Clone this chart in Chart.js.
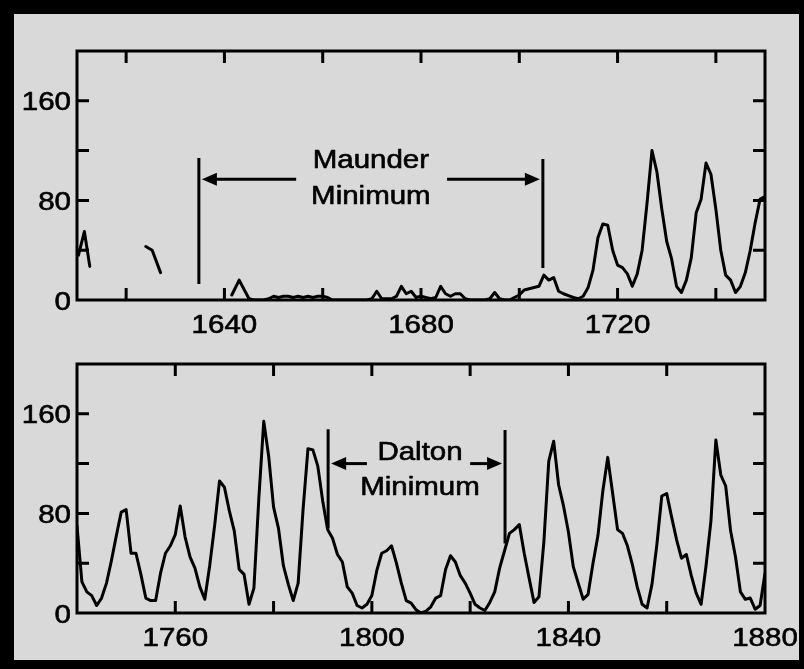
<!DOCTYPE html>
<html>
<head>
<meta charset="utf-8">
<script src="https://cdn.jsdelivr.net/npm/chart.js@4/dist/chart.umd.min.js"></script>
<style>
  html, body { margin: 0; padding: 0; background: #000; width: 804px; height: 669px; overflow: hidden; }
  #panel { position: absolute; left: 14px; top: 14px; width: 785px; height: 646px; background: #d9d9d9; }
  canvas { position: absolute; left: 0; top: 0; }
</style>
</head>
<body>
<div id="panel"></div>
<canvas id="early" width="804" height="669"></canvas>
<canvas id="late" width="804" height="669"></canvas>
<script>
// Yearly sunspot numbers, 1610-1750 (null = no observations)
const earlyYears = [
  1610.3, 1611.5, 1612.6, 1618,
  1624, 1625.3, 1627, 1634,
  1641.5, 1643, 1645, 1646, 1647, 1648, 1649,
  1650, 1651, 1652, 1653, 1654, 1655, 1656, 1657, 1658, 1659,
  1660, 1661, 1662, 1663, 1664, 1665, 1666, 1667, 1668, 1669,
  1670, 1671, 1672, 1673, 1674, 1675, 1676, 1677, 1678, 1679,
  1680, 1681, 1682, 1683, 1684, 1685, 1686, 1687, 1688, 1689,
  1690, 1691, 1692, 1693, 1694, 1695, 1696, 1697, 1698, 1699,
  1700, 1701, 1702, 1703, 1704, 1705, 1706, 1707, 1708, 1709,
  1710, 1711, 1712, 1713, 1714, 1715, 1716, 1717, 1718, 1719,
  1720, 1721, 1722, 1723, 1724, 1725, 1726, 1727, 1728, 1729,
  1730, 1731, 1732, 1733, 1734, 1735, 1736, 1737, 1738, 1739,
  1740, 1741, 1742, 1743, 1744, 1745, 1746, 1747, 1748, 1749, 1750
];
const earlyValues = [
  36, 55, 27, null,
  43, 40, 22, null,
  4, 16, 1, 0, 0, 0, 1,
  3, 2, 3, 3, 2, 3, 2, 3, 2, 3,
  3, 2, 0, 0, 0, 0, 0, 0, 0, 0,
  1, 7, 1, 1, 1, 3, 11, 5, 7, 2,
  3, 2, 1, 2, 11, 5, 3, 5, 5, 1,
  0, 0, 0, 0, 1, 6, 1, 0, 0, 2,
  4, 8, 9, 10, 11, 20, 16, 18, 7, 5,
  3.5, 2, 1, 3, 10, 24, 50, 61, 60, 40,
  28, 26, 21, 11, 21, 40, 78, 120, 103, 73,
  47, 33, 11, 6, 16, 34, 70, 81, 110, 101,
  73, 40, 20, 16, 6, 11, 22, 40, 62, 81, 83
];

// Yearly sunspot numbers, 1740-1880
const lateStartYear = 1740;
const lateValues = [
  70, 25, 17, 14, 6, 12, 24, 42, 62, 81,
  83, 48, 48, 31, 12, 10, 10, 32, 48, 54,
  63, 86, 61, 45, 36, 21, 11, 38, 70, 106,
  101, 82, 66, 35, 31, 7, 20, 92, 154, 126,
  85, 68, 38, 23, 10, 24, 83, 132, 131, 118,
  90, 67, 60, 47, 41, 21, 16, 6, 4, 7,
  14, 34, 48, 50, 54, 40, 24, 10, 8, 2.5,
  0, 1.4, 5, 12, 14, 35, 46, 41, 30, 24,
  16, 7, 4, 2, 8.5, 17, 36, 50, 64, 67,
  71, 48, 28, 8.5, 13, 57, 122, 138, 103, 86,
  65, 37, 24, 11, 15, 40, 62, 98, 125, 96,
  67, 64, 54, 39, 21, 7, 4, 23, 55, 94,
  96, 77, 59, 44, 47, 30, 16, 7, 38, 74,
  139, 111, 102, 66, 45, 17, 11, 12, 3, 6,
  32
];
const lateYears = lateValues.map((_, i) => lateStartYear + i);

// Axis ticks
const valueTickMarks = [40, 80, 120, 160];
const valueTickLabels = [0, 80, 160];
const earlyYearMarks = [1620, 1640, 1660, 1680, 1700, 1720, 1740];
const earlyYearLabels = [1640, 1680, 1720];
const lateYearMarks = [1760, 1780, 1800, 1820, 1840, 1860];
const lateYearLabels = [1760, 1800, 1840, 1880];

// Minimum brackets
const maunderBounds = [1634.8, 1704.8];
const maunderLeftSpan = [12.9, 114];
const maunderRightSpan = [25.7, 113.3];
const maunderArrowLevel = 97;
const maunderArrowTails = [1654.6, 1685.3];
const maunderText = ['Maunder', 'Minimum'];
const maunderTextAt = [1669.8, 106, 77];

const daltonBounds = [1791.1, 1827.1];
const daltonLeftSpan = [67.9, 147.5];
const daltonRightSpan = [55.8, 146.9];
const daltonArrowLevel = 120;
const daltonArrowTails = [1799.0, 1820.0];
const daltonText = ['Dalton', 'Minimum'];
const daltonTextAt = [1809.8, 122.8, 94.7];

const FONT = "'Liberation Sans', Arial, Helvetica, sans-serif";
const FONT_SIZE = 25;
const TEXT_WIDEN = 1.18;   // wide grotesque lettering

function wideText(ctx, text, x, y, align) {
  ctx.save();
  ctx.translate(x, y);
  ctx.scale(TEXT_WIDEN, 1);
  ctx.textAlign = align;
  ctx.textBaseline = 'alphabetic';
  ctx.lineWidth = 0.6;
  ctx.lineJoin = 'round';
  ctx.strokeStyle = '#000';
  ctx.fillText(text, 0, 0);
  ctx.strokeText(text, 0, 0);
  ctx.restore();
}

// Box frame, inward tick marks on all four sides, and tick labels
const frameTicks = {
  id: 'frameTicks',
  afterDatasetsDraw(chart, args, opts) {
    const { ctx, chartArea: a, scales: { x, y } } = chart;
    const len = 12;
    ctx.save();
    ctx.strokeStyle = '#000';
    ctx.lineWidth = 3;
    ctx.beginPath();
    for (const v of opts.xMarks) {
      const px = x.getPixelForValue(v);
      ctx.moveTo(px, a.bottom); ctx.lineTo(px, a.bottom - len);
      ctx.moveTo(px, a.top); ctx.lineTo(px, a.top + len);
    }
    for (const v of opts.yMarks) {
      const py = y.getPixelForValue(v);
      ctx.moveTo(a.left, py); ctx.lineTo(a.left + len, py);
      ctx.moveTo(a.right, py); ctx.lineTo(a.right - len, py);
    }
    ctx.stroke();
    ctx.lineJoin = 'miter';
    ctx.strokeRect(a.left, a.top, a.right - a.left, a.bottom - a.top);

    ctx.fillStyle = '#000';
    ctx.font = FONT_SIZE + 'px ' + FONT;
    for (const t of x.ticks) {
      wideText(ctx, String(t.value), x.getPixelForValue(t.value), a.bottom + 32.5, 'center');
    }
    for (const t of y.ticks) {
      wideText(ctx, String(t.value), a.left - 6, y.getPixelForValue(t.value) + 9.5, 'right');
    }
    ctx.restore();
  }
};

// Bracketing lines, arrows and label of a solar minimum
const minimumBracket = {
  id: 'minimumBracket',
  afterDatasetsDraw(chart, args, o) {
    const { ctx, scales: { x, y } } = chart;
    const xl = x.getPixelForValue(o.bounds[0]);
    const xr = x.getPixelForValue(o.bounds[1]);
    const ya = y.getPixelForValue(o.arrowLevel);
    ctx.save();
    ctx.strokeStyle = '#000';
    ctx.fillStyle = '#000';
    ctx.lineWidth = 3;
    ctx.lineCap = 'butt';
    ctx.beginPath();
    ctx.moveTo(xl, y.getPixelForValue(o.leftSpan[0]));
    ctx.lineTo(xl, y.getPixelForValue(o.leftSpan[1]));
    ctx.moveTo(xr, y.getPixelForValue(o.rightSpan[0]));
    ctx.lineTo(xr, y.getPixelForValue(o.rightSpan[1]));
    ctx.stroke();

    const headLen = 15, headHalf = 6.5, gap = 3;
    const tipL = xl + gap;
    ctx.beginPath();
    ctx.moveTo(tipL + headLen - 1, ya);
    ctx.lineTo(x.getPixelForValue(o.arrowTails[0]), ya);
    ctx.stroke();
    ctx.beginPath();
    ctx.moveTo(tipL, ya);
    ctx.lineTo(tipL + headLen, ya - headHalf);
    ctx.lineTo(tipL + headLen, ya + headHalf);
    ctx.closePath();
    ctx.fill();

    const tipR = xr - gap;
    ctx.beginPath();
    ctx.moveTo(x.getPixelForValue(o.arrowTails[1]), ya);
    ctx.lineTo(tipR - headLen + 1, ya);
    ctx.stroke();
    ctx.beginPath();
    ctx.moveTo(tipR, ya);
    ctx.lineTo(tipR - headLen, ya - headHalf);
    ctx.lineTo(tipR - headLen, ya + headHalf);
    ctx.closePath();
    ctx.fill();

    ctx.font = FONT_SIZE + 'px ' + FONT;
    const cx = x.getPixelForValue(o.textAt[0]);
    o.text.forEach((t, i) => {
      wideText(ctx, t, cx, y.getPixelForValue(o.textAt[1 + i]), 'center');
    });
    ctx.restore();
  }
};

function makeChart(id, years, values, xMin, xMax, xMarks, xLabels, padTop, padBottom, bracket) {
  const pts = years.map((yr, i) => ({ x: yr, y: values[i] }));
  return new Chart(document.getElementById(id), {
    type: 'line',
    data: {
      datasets: [{
        data: pts,
        borderColor: '#000',
        borderWidth: 3,
        pointRadius: 0,
        tension: 0,
        spanGaps: false,
        borderJoinStyle: 'round',
        borderCapStyle: 'round'
      }]
    },
    options: {
      responsive: false,
      animation: false,
      events: [],
      layout: { padding: { left: 0, right: 39, top: padTop, bottom: padBottom } },
      plugins: {
        legend: { display: false },
        tooltip: { enabled: false },
        frameTicks: { xMarks: xMarks, yMarks: valueTickMarks },
        minimumBracket: bracket
      },
      scales: {
        x: {
          type: 'linear',
          position: 'bottom',
          min: xMin,
          max: xMax,
          grid: { display: false, drawTicks: false },
          border: { display: false },
          afterBuildTicks: s => { s.ticks = xLabels.map(v => ({ value: v })); },
          afterFit: s => { s.height = 40; },
          ticks: { display: false, autoSkip: false, maxRotation: 0 }
        },
        y: {
          type: 'linear',
          position: 'left',
          min: 0,
          max: 200,
          grid: { display: false, drawTicks: false },
          border: { display: false },
          afterBuildTicks: s => { s.ticks = valueTickLabels.map(v => ({ value: v })); },
          afterFit: s => { s.width = 77; },
          ticks: { display: false, autoSkip: false }
        }
      }
    },
    plugins: [frameTicks, minimumBracket]
  });
}

makeChart('early', earlyYears, earlyValues, 1610, 1750, earlyYearMarks, earlyYearLabels, 51, 329, {
  bounds: maunderBounds, leftSpan: maunderLeftSpan, rightSpan: maunderRightSpan,
  arrowLevel: maunderArrowLevel, arrowTails: maunderArrowTails,
  text: maunderText, textAt: maunderTextAt
});
makeChart('late', lateYears, lateValues, 1740, 1880, lateYearMarks, lateYearLabels, 364, 16, {
  bounds: daltonBounds, leftSpan: daltonLeftSpan, rightSpan: daltonRightSpan,
  arrowLevel: daltonArrowLevel, arrowTails: daltonArrowTails,
  text: daltonText, textAt: daltonTextAt
});
</script>
</body>
</html>
